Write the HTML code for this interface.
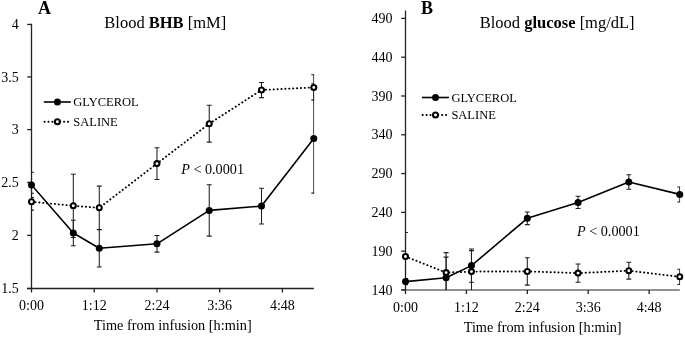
<!DOCTYPE html>
<html><head><meta charset="utf-8"><style>
html,body{margin:0;padding:0;background:#fff;}
body{width:685px;height:337px;overflow:hidden;}
svg{display:block;will-change:transform;}
text{font-family:"Liberation Serif", serif;fill:#000;}
.t{font-size:14px;}
.l{font-size:12.5px;}
.ti{font-size:16.5px;}
.h{font-size:18px;font-weight:bold;}
.p{font-size:14.2px;}
.ax{font-size:14.3px;}
</style></head><body>
<svg width="685" height="337" viewBox="0 0 685 337">
<clipPath id="ca"><rect x="31.5" y="21.85" width="282.7" height="266.65"/></clipPath>
<line x1="31.5" y1="23.85" x2="31.5" y2="288.5" stroke="#222" stroke-width="1.3"/>
<line x1="27.2" y1="288.5" x2="313.9" y2="288.5" stroke="#222" stroke-width="1.3"/>
<line x1="27.2" y1="288.50" x2="31.5" y2="288.50" stroke="#222" stroke-width="1.3"/>
<line x1="27.2" y1="235.35" x2="31.5" y2="235.35" stroke="#222" stroke-width="1.3"/>
<line x1="27.2" y1="182.40" x2="31.5" y2="182.40" stroke="#222" stroke-width="1.3"/>
<line x1="27.2" y1="129.60" x2="31.5" y2="129.60" stroke="#222" stroke-width="1.3"/>
<line x1="27.2" y1="76.95" x2="31.5" y2="76.95" stroke="#222" stroke-width="1.3"/>
<line x1="27.2" y1="24.45" x2="31.5" y2="24.45" stroke="#222" stroke-width="1.3"/>
<line x1="31.50" y1="288.5" x2="31.50" y2="292.5" stroke="#222" stroke-width="1.3"/>
<line x1="94.23" y1="288.5" x2="94.23" y2="292.5" stroke="#222" stroke-width="1.3"/>
<line x1="156.96" y1="288.5" x2="156.96" y2="292.5" stroke="#222" stroke-width="1.3"/>
<line x1="219.69" y1="288.5" x2="219.69" y2="292.5" stroke="#222" stroke-width="1.3"/>
<line x1="282.42" y1="288.5" x2="282.42" y2="292.5" stroke="#222" stroke-width="1.3"/>
<text x="18.8" y="293.10" text-anchor="end" class="t">1.5</text>
<text x="18.8" y="239.95" text-anchor="end" class="t">2</text>
<text x="18.8" y="187.00" text-anchor="end" class="t">2.5</text>
<text x="18.8" y="134.20" text-anchor="end" class="t">3</text>
<text x="18.8" y="81.55" text-anchor="end" class="t">3.5</text>
<text x="18.8" y="29.05" text-anchor="end" class="t">4</text>
<text x="31.50" y="310.10" text-anchor="middle" class="t">0:00</text>
<text x="94.23" y="310.10" text-anchor="middle" class="t">1:12</text>
<text x="156.96" y="310.10" text-anchor="middle" class="t">2:24</text>
<text x="219.69" y="310.10" text-anchor="middle" class="t">3:36</text>
<text x="282.42" y="310.10" text-anchor="middle" class="t">4:48</text>
<text x="172.70" y="330.10" text-anchor="middle" class="ax">Time from infusion [h:min]</text>
<g clip-path="url(#ca)"><line x1="31.50" y1="172.20" x2="31.50" y2="197.60" stroke="#1e1e1e" stroke-width="1.05"/><line x1="29.05" y1="172.20" x2="33.95" y2="172.20" stroke="#1e1e1e" stroke-width="1.05"/><line x1="29.05" y1="197.60" x2="33.95" y2="197.60" stroke="#1e1e1e" stroke-width="1.05"/><line x1="73.32" y1="220.30" x2="73.32" y2="245.70" stroke="#1e1e1e" stroke-width="1.05"/><line x1="70.87" y1="220.30" x2="75.77" y2="220.30" stroke="#1e1e1e" stroke-width="1.05"/><line x1="70.87" y1="245.70" x2="75.77" y2="245.70" stroke="#1e1e1e" stroke-width="1.05"/><line x1="99.28" y1="229.70" x2="99.28" y2="266.90" stroke="#1e1e1e" stroke-width="1.05"/><line x1="96.83" y1="229.70" x2="101.73" y2="229.70" stroke="#1e1e1e" stroke-width="1.05"/><line x1="96.83" y1="266.90" x2="101.73" y2="266.90" stroke="#1e1e1e" stroke-width="1.05"/><line x1="156.96" y1="235.50" x2="156.96" y2="252.10" stroke="#1e1e1e" stroke-width="1.05"/><line x1="154.51" y1="235.50" x2="159.41" y2="235.50" stroke="#1e1e1e" stroke-width="1.05"/><line x1="154.51" y1="252.10" x2="159.41" y2="252.10" stroke="#1e1e1e" stroke-width="1.05"/><line x1="209.24" y1="184.70" x2="209.24" y2="236.10" stroke="#1e1e1e" stroke-width="1.05"/><line x1="206.79" y1="184.70" x2="211.69" y2="184.70" stroke="#1e1e1e" stroke-width="1.05"/><line x1="206.79" y1="236.10" x2="211.69" y2="236.10" stroke="#1e1e1e" stroke-width="1.05"/><line x1="261.51" y1="188.20" x2="261.51" y2="224.00" stroke="#1e1e1e" stroke-width="1.05"/><line x1="259.06" y1="188.20" x2="263.96" y2="188.20" stroke="#1e1e1e" stroke-width="1.05"/><line x1="259.06" y1="224.00" x2="263.96" y2="224.00" stroke="#1e1e1e" stroke-width="1.05"/><line x1="313.79" y1="83.70" x2="313.79" y2="193.10" stroke="#1e1e1e" stroke-width="1.05"/><line x1="311.34" y1="83.70" x2="316.24" y2="83.70" stroke="#1e1e1e" stroke-width="1.05"/><line x1="311.34" y1="193.10" x2="316.24" y2="193.10" stroke="#1e1e1e" stroke-width="1.05"/><line x1="31.50" y1="193.30" x2="31.50" y2="210.10" stroke="#1e1e1e" stroke-width="1.05"/><line x1="29.05" y1="193.30" x2="33.95" y2="193.30" stroke="#1e1e1e" stroke-width="1.05"/><line x1="29.05" y1="210.10" x2="33.95" y2="210.10" stroke="#1e1e1e" stroke-width="1.05"/><line x1="73.32" y1="174.20" x2="73.32" y2="237.40" stroke="#1e1e1e" stroke-width="1.05"/><line x1="70.87" y1="174.20" x2="75.77" y2="174.20" stroke="#1e1e1e" stroke-width="1.05"/><line x1="70.87" y1="237.40" x2="75.77" y2="237.40" stroke="#1e1e1e" stroke-width="1.05"/><line x1="99.28" y1="186.10" x2="99.28" y2="229.50" stroke="#1e1e1e" stroke-width="1.05"/><line x1="96.83" y1="186.10" x2="101.73" y2="186.10" stroke="#1e1e1e" stroke-width="1.05"/><line x1="96.83" y1="229.50" x2="101.73" y2="229.50" stroke="#1e1e1e" stroke-width="1.05"/><line x1="156.96" y1="147.80" x2="156.96" y2="179.40" stroke="#1e1e1e" stroke-width="1.05"/><line x1="154.51" y1="147.80" x2="159.41" y2="147.80" stroke="#1e1e1e" stroke-width="1.05"/><line x1="154.51" y1="179.40" x2="159.41" y2="179.40" stroke="#1e1e1e" stroke-width="1.05"/><line x1="209.24" y1="105.30" x2="209.24" y2="142.10" stroke="#1e1e1e" stroke-width="1.05"/><line x1="206.79" y1="105.30" x2="211.69" y2="105.30" stroke="#1e1e1e" stroke-width="1.05"/><line x1="206.79" y1="142.10" x2="211.69" y2="142.10" stroke="#1e1e1e" stroke-width="1.05"/><line x1="261.51" y1="82.40" x2="261.51" y2="97.60" stroke="#1e1e1e" stroke-width="1.05"/><line x1="259.06" y1="82.40" x2="263.96" y2="82.40" stroke="#1e1e1e" stroke-width="1.05"/><line x1="259.06" y1="97.60" x2="263.96" y2="97.60" stroke="#1e1e1e" stroke-width="1.05"/><line x1="313.79" y1="74.70" x2="313.79" y2="100.10" stroke="#1e1e1e" stroke-width="1.05"/><line x1="311.34" y1="74.70" x2="316.24" y2="74.70" stroke="#1e1e1e" stroke-width="1.05"/><line x1="311.34" y1="100.10" x2="316.24" y2="100.10" stroke="#1e1e1e" stroke-width="1.05"/><polyline points="31.50,184.9 73.32,233.0 99.28,248.3 156.96,243.8 209.24,210.4 261.51,206.1 313.79,138.4" fill="none" stroke="#000" stroke-width="1.6" stroke-linejoin="round"/><polyline points="31.50,201.7 73.32,205.8 99.28,207.8 156.96,163.6 209.24,123.7 261.51,90.0 313.79,87.4" fill="none" stroke="#000" stroke-width="1.9" stroke-dasharray="0.2 3.7" stroke-linecap="round"/></g><circle cx="31.50" cy="184.9" r="3.5" fill="#000"/><circle cx="73.32" cy="233.0" r="3.5" fill="#000"/><circle cx="99.28" cy="248.3" r="3.5" fill="#000"/><circle cx="156.96" cy="243.8" r="3.5" fill="#000"/><circle cx="209.24" cy="210.4" r="3.5" fill="#000"/><circle cx="261.51" cy="206.1" r="3.5" fill="#000"/><circle cx="313.79" cy="138.4" r="3.5" fill="#000"/><circle cx="31.50" cy="201.7" r="2.5" fill="#fff" stroke="#000" stroke-width="2.05"/><circle cx="73.32" cy="205.8" r="2.5" fill="#fff" stroke="#000" stroke-width="2.05"/><circle cx="99.28" cy="207.8" r="2.5" fill="#fff" stroke="#000" stroke-width="2.05"/><circle cx="156.96" cy="163.6" r="2.5" fill="#fff" stroke="#000" stroke-width="2.05"/><circle cx="209.24" cy="123.7" r="2.5" fill="#fff" stroke="#000" stroke-width="2.05"/><circle cx="261.51" cy="90.0" r="2.5" fill="#fff" stroke="#000" stroke-width="2.05"/><circle cx="313.79" cy="87.4" r="2.5" fill="#fff" stroke="#000" stroke-width="2.05"/>
<clipPath id="cb"><rect x="405.5" y="8.5" width="274.59999999999997" height="281.5"/></clipPath>
<line x1="405.5" y1="10.5" x2="405.5" y2="290.0" stroke="#222" stroke-width="1.3"/>
<line x1="401.2" y1="290.0" x2="679.8" y2="290.0" stroke="#222" stroke-width="1.0"/>
<line x1="401.2" y1="289.95" x2="405.5" y2="289.95" stroke="#222" stroke-width="1.3"/>
<line x1="401.2" y1="251.16" x2="405.5" y2="251.16" stroke="#222" stroke-width="1.3"/>
<line x1="401.2" y1="212.36" x2="405.5" y2="212.36" stroke="#222" stroke-width="1.3"/>
<line x1="401.2" y1="173.57" x2="405.5" y2="173.57" stroke="#222" stroke-width="1.3"/>
<line x1="401.2" y1="134.78" x2="405.5" y2="134.78" stroke="#222" stroke-width="1.3"/>
<line x1="401.2" y1="95.99" x2="405.5" y2="95.99" stroke="#222" stroke-width="1.3"/>
<line x1="401.2" y1="57.19" x2="405.5" y2="57.19" stroke="#222" stroke-width="1.3"/>
<line x1="401.2" y1="18.40" x2="405.5" y2="18.40" stroke="#222" stroke-width="1.3"/>
<line x1="405.50" y1="290.0" x2="405.50" y2="294.0" stroke="#222" stroke-width="1.3"/>
<line x1="466.40" y1="290.0" x2="466.40" y2="294.0" stroke="#222" stroke-width="1.3"/>
<line x1="527.31" y1="290.0" x2="527.31" y2="294.0" stroke="#222" stroke-width="1.3"/>
<line x1="588.22" y1="290.0" x2="588.22" y2="294.0" stroke="#222" stroke-width="1.3"/>
<line x1="649.12" y1="290.0" x2="649.12" y2="294.0" stroke="#222" stroke-width="1.3"/>
<text x="392.6" y="294.55" text-anchor="end" class="t">140</text>
<text x="392.6" y="255.76" text-anchor="end" class="t">190</text>
<text x="392.6" y="216.96" text-anchor="end" class="t">240</text>
<text x="392.6" y="178.17" text-anchor="end" class="t">290</text>
<text x="392.6" y="139.38" text-anchor="end" class="t">340</text>
<text x="392.6" y="100.59" text-anchor="end" class="t">390</text>
<text x="392.6" y="61.79" text-anchor="end" class="t">440</text>
<text x="392.6" y="23.00" text-anchor="end" class="t">490</text>
<text x="405.50" y="311.60" text-anchor="middle" class="t">0:00</text>
<text x="466.40" y="311.60" text-anchor="middle" class="t">1:12</text>
<text x="527.31" y="311.60" text-anchor="middle" class="t">2:24</text>
<text x="588.22" y="311.60" text-anchor="middle" class="t">3:36</text>
<text x="649.12" y="311.60" text-anchor="middle" class="t">4:48</text>
<text x="542.65" y="331.60" text-anchor="middle" class="ax">Time from infusion [h:min]</text>
<g clip-path="url(#cb)"><line x1="405.50" y1="278.60" x2="405.50" y2="284.60" stroke="#1e1e1e" stroke-width="1.05"/><line x1="403.05" y1="278.60" x2="407.95" y2="278.60" stroke="#1e1e1e" stroke-width="1.05"/><line x1="403.05" y1="284.60" x2="407.95" y2="284.60" stroke="#1e1e1e" stroke-width="1.05"/><line x1="446.10" y1="257.10" x2="446.10" y2="298.50" stroke="#1e1e1e" stroke-width="1.05"/><line x1="443.65" y1="257.10" x2="448.55" y2="257.10" stroke="#1e1e1e" stroke-width="1.05"/><line x1="443.65" y1="298.50" x2="448.55" y2="298.50" stroke="#1e1e1e" stroke-width="1.05"/><line x1="471.48" y1="249.00" x2="471.48" y2="282.20" stroke="#1e1e1e" stroke-width="1.05"/><line x1="469.03" y1="249.00" x2="473.93" y2="249.00" stroke="#1e1e1e" stroke-width="1.05"/><line x1="469.03" y1="282.20" x2="473.93" y2="282.20" stroke="#1e1e1e" stroke-width="1.05"/><line x1="527.31" y1="212.00" x2="527.31" y2="224.60" stroke="#1e1e1e" stroke-width="1.05"/><line x1="524.86" y1="212.00" x2="529.76" y2="212.00" stroke="#1e1e1e" stroke-width="1.05"/><line x1="524.86" y1="224.60" x2="529.76" y2="224.60" stroke="#1e1e1e" stroke-width="1.05"/><line x1="578.06" y1="196.30" x2="578.06" y2="208.50" stroke="#1e1e1e" stroke-width="1.05"/><line x1="575.61" y1="196.30" x2="580.51" y2="196.30" stroke="#1e1e1e" stroke-width="1.05"/><line x1="575.61" y1="208.50" x2="580.51" y2="208.50" stroke="#1e1e1e" stroke-width="1.05"/><line x1="628.82" y1="174.80" x2="628.82" y2="189.20" stroke="#1e1e1e" stroke-width="1.05"/><line x1="626.37" y1="174.80" x2="631.27" y2="174.80" stroke="#1e1e1e" stroke-width="1.05"/><line x1="626.37" y1="189.20" x2="631.27" y2="189.20" stroke="#1e1e1e" stroke-width="1.05"/><line x1="679.74" y1="186.90" x2="679.74" y2="201.90" stroke="#1e1e1e" stroke-width="1.05"/><line x1="677.29" y1="186.90" x2="682.19" y2="186.90" stroke="#1e1e1e" stroke-width="1.05"/><line x1="677.29" y1="201.90" x2="682.19" y2="201.90" stroke="#1e1e1e" stroke-width="1.05"/><line x1="405.50" y1="232.40" x2="405.50" y2="280.60" stroke="#1e1e1e" stroke-width="1.05"/><line x1="403.05" y1="232.40" x2="407.95" y2="232.40" stroke="#1e1e1e" stroke-width="1.05"/><line x1="403.05" y1="280.60" x2="407.95" y2="280.60" stroke="#1e1e1e" stroke-width="1.05"/><line x1="446.10" y1="252.60" x2="446.10" y2="292.60" stroke="#1e1e1e" stroke-width="1.05"/><line x1="443.65" y1="252.60" x2="448.55" y2="252.60" stroke="#1e1e1e" stroke-width="1.05"/><line x1="443.65" y1="292.60" x2="448.55" y2="292.60" stroke="#1e1e1e" stroke-width="1.05"/><line x1="471.48" y1="250.60" x2="471.48" y2="292.60" stroke="#1e1e1e" stroke-width="1.05"/><line x1="469.03" y1="250.60" x2="473.93" y2="250.60" stroke="#1e1e1e" stroke-width="1.05"/><line x1="469.03" y1="292.60" x2="473.93" y2="292.60" stroke="#1e1e1e" stroke-width="1.05"/><line x1="527.31" y1="257.70" x2="527.31" y2="285.10" stroke="#1e1e1e" stroke-width="1.05"/><line x1="524.86" y1="257.70" x2="529.76" y2="257.70" stroke="#1e1e1e" stroke-width="1.05"/><line x1="524.86" y1="285.10" x2="529.76" y2="285.10" stroke="#1e1e1e" stroke-width="1.05"/><line x1="578.06" y1="263.90" x2="578.06" y2="282.30" stroke="#1e1e1e" stroke-width="1.05"/><line x1="575.61" y1="263.90" x2="580.51" y2="263.90" stroke="#1e1e1e" stroke-width="1.05"/><line x1="575.61" y1="282.30" x2="580.51" y2="282.30" stroke="#1e1e1e" stroke-width="1.05"/><line x1="628.82" y1="262.30" x2="628.82" y2="279.10" stroke="#1e1e1e" stroke-width="1.05"/><line x1="626.37" y1="262.30" x2="631.27" y2="262.30" stroke="#1e1e1e" stroke-width="1.05"/><line x1="626.37" y1="279.10" x2="631.27" y2="279.10" stroke="#1e1e1e" stroke-width="1.05"/><line x1="679.74" y1="269.20" x2="679.74" y2="284.40" stroke="#1e1e1e" stroke-width="1.05"/><line x1="677.29" y1="269.20" x2="682.19" y2="269.20" stroke="#1e1e1e" stroke-width="1.05"/><line x1="677.29" y1="284.40" x2="682.19" y2="284.40" stroke="#1e1e1e" stroke-width="1.05"/><polyline points="405.50,281.6 446.10,277.8 471.48,265.6 527.31,218.3 578.06,202.4 628.82,182.0 679.74,194.4" fill="none" stroke="#000" stroke-width="1.6" stroke-linejoin="round"/><polyline points="405.50,256.5 446.10,272.6 471.48,271.6 527.31,271.4 578.06,273.1 628.82,270.7 679.74,276.8" fill="none" stroke="#000" stroke-width="1.9" stroke-dasharray="0.2 3.7" stroke-linecap="round"/></g><circle cx="405.50" cy="281.6" r="3.5" fill="#000"/><circle cx="446.10" cy="277.8" r="3.5" fill="#000"/><circle cx="471.48" cy="265.6" r="3.5" fill="#000"/><circle cx="527.31" cy="218.3" r="3.5" fill="#000"/><circle cx="578.06" cy="202.4" r="3.5" fill="#000"/><circle cx="628.82" cy="182.0" r="3.5" fill="#000"/><circle cx="679.74" cy="194.4" r="3.5" fill="#000"/><circle cx="405.50" cy="256.5" r="2.5" fill="#fff" stroke="#000" stroke-width="2.05"/><circle cx="446.10" cy="272.6" r="2.5" fill="#fff" stroke="#000" stroke-width="2.05"/><circle cx="471.48" cy="271.6" r="2.5" fill="#fff" stroke="#000" stroke-width="2.05"/><circle cx="527.31" cy="271.4" r="2.5" fill="#fff" stroke="#000" stroke-width="2.05"/><circle cx="578.06" cy="273.1" r="2.5" fill="#fff" stroke="#000" stroke-width="2.05"/><circle cx="628.82" cy="270.7" r="2.5" fill="#fff" stroke="#000" stroke-width="2.05"/><circle cx="679.74" cy="276.8" r="2.5" fill="#fff" stroke="#000" stroke-width="2.05"/>
<line x1="43.8" y1="102.0" x2="70.8" y2="102.0" stroke="#000" stroke-width="1.6"/>
<circle cx="57.4" cy="102.0" r="3.5" fill="#000"/>
<line x1="44.5" y1="121.7" x2="69.8" y2="121.7" stroke="#000" stroke-width="1.9" stroke-dasharray="0.2 3.7" stroke-linecap="round"/>
<circle cx="57.4" cy="121.7" r="2.5" fill="#fff" stroke="#000" stroke-width="2.05"/>
<text x="73.3" y="106.2" class="l">GLYCEROL</text>
<text x="73.3" y="125.9" class="l">SALINE</text>
<line x1="421.9" y1="97.5" x2="448.9" y2="97.5" stroke="#000" stroke-width="1.6"/>
<circle cx="435.5" cy="97.5" r="3.5" fill="#000"/>
<line x1="422.59999999999997" y1="115.0" x2="447.9" y2="115.0" stroke="#000" stroke-width="1.9" stroke-dasharray="0.2 3.7" stroke-linecap="round"/>
<circle cx="435.5" cy="115.0" r="2.5" fill="#fff" stroke="#000" stroke-width="2.05"/>
<text x="451.4" y="101.7" class="l">GLYCEROL</text>
<text x="451.4" y="119.2" class="l">SALINE</text>
<text x="38" y="14" class="h">A</text>
<text x="421" y="13.9" class="h">B</text>
<text x="104.3" y="27.5" class="ti">Blood <tspan font-weight="bold">BHB</tspan> [mM]</text>
<text x="479.7" y="27.6" class="ti">Blood <tspan font-weight="bold">glucose</tspan> [mg/dL]</text>
<text x="181.2" y="173.7" class="p"><tspan font-style="italic">P</tspan> &lt; 0.0001</text>
<text x="577.0" y="235.5" class="p"><tspan font-style="italic">P</tspan> &lt; 0.0001</text>
</svg>
</body></html>
